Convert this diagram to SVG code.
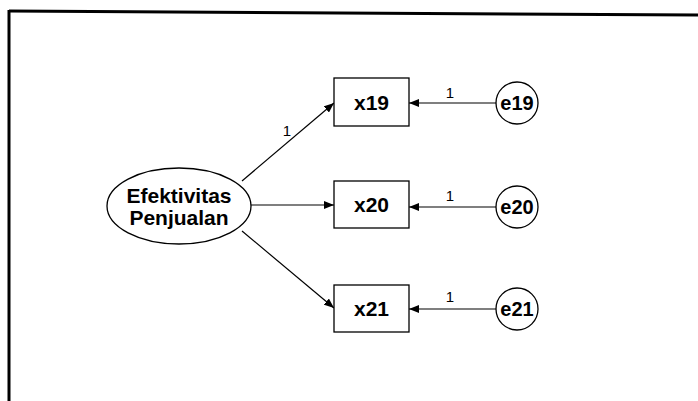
<svg xmlns="http://www.w3.org/2000/svg" width="698" height="401" viewBox="0 0 698 401">
<style>
.frame{stroke:#000;stroke-width:3;fill:none}
.shape{fill:#fff;stroke:#000;stroke-width:1.3}
.lbl{font-family:"Liberation Sans",Arial,sans-serif;font-weight:bold;fill:#000;text-anchor:middle}
.w{font-family:"Liberation Sans",Arial,sans-serif;font-size:15px;fill:#000;text-anchor:middle}
.edge{stroke:#000;stroke-width:1.2;fill:none;marker-end:url(#ah)}
</style>
<defs>
<marker id="ah" viewBox="0 0 10 8" refX="10" refY="4" markerWidth="10" markerHeight="8" markerUnits="userSpaceOnUse" orient="auto">
<path d="M0,0 L10,4 L0,8 Z" fill="#000"/>
</marker>
</defs>
<rect width="698" height="401" fill="#fff"/>
<g id="frame">
<line class="frame" x1="9" y1="11" x2="698" y2="15"/>
<line class="frame" x1="9" y1="10" x2="9" y2="401"/>
</g>
<g id="connectors">
<line class="edge" x1="242" y1="181" x2="334" y2="103"/>
<line class="edge" x1="251" y1="205" x2="334" y2="205"/>
<line class="edge" x1="242" y1="231" x2="334" y2="308"/>
<line class="edge" x1="497" y1="103" x2="409" y2="103"/>
<line class="edge" x1="497" y1="207" x2="409" y2="207"/>
<line class="edge" x1="497" y1="309" x2="409" y2="309"/>
<text class="w" x="287" y="136">1</text>
<text class="w" x="450" y="98">1</text>
<text class="w" x="450" y="201">1</text>
<text class="w" x="450" y="302">1</text>
</g>
<g id="efektivitas">
<ellipse class="shape" cx="179" cy="206" rx="72" ry="38"/>
<text class="lbl" x="179" y="203" font-size="21">Efektivitas</text>
<text class="lbl" x="179" y="225" font-size="21">Penjualan</text>
</g>
<g id="x19">
<rect class="shape" x="334" y="78" width="75" height="48"/>
<text class="lbl" x="371.5" y="110" font-size="21">x19</text>
</g>
<g id="x20">
<rect class="shape" x="334" y="181" width="75" height="47"/>
<text class="lbl" x="371.5" y="212" font-size="21">x20</text>
</g>
<g id="x21">
<rect class="shape" x="334" y="285" width="75" height="47"/>
<text class="lbl" x="371.5" y="316" font-size="21">x21</text>
</g>
<g id="e19">
<circle class="shape" cx="517" cy="103" r="21"/>
<text class="lbl" x="517" y="110" font-size="20">e19</text>
</g>
<g id="e20">
<circle class="shape" cx="517" cy="207" r="21"/>
<text class="lbl" x="517" y="214" font-size="20">e20</text>
</g>
<g id="e21">
<circle class="shape" cx="517" cy="309" r="21"/>
<text class="lbl" x="517" y="316" font-size="20">e21</text>
</g>
</svg>
